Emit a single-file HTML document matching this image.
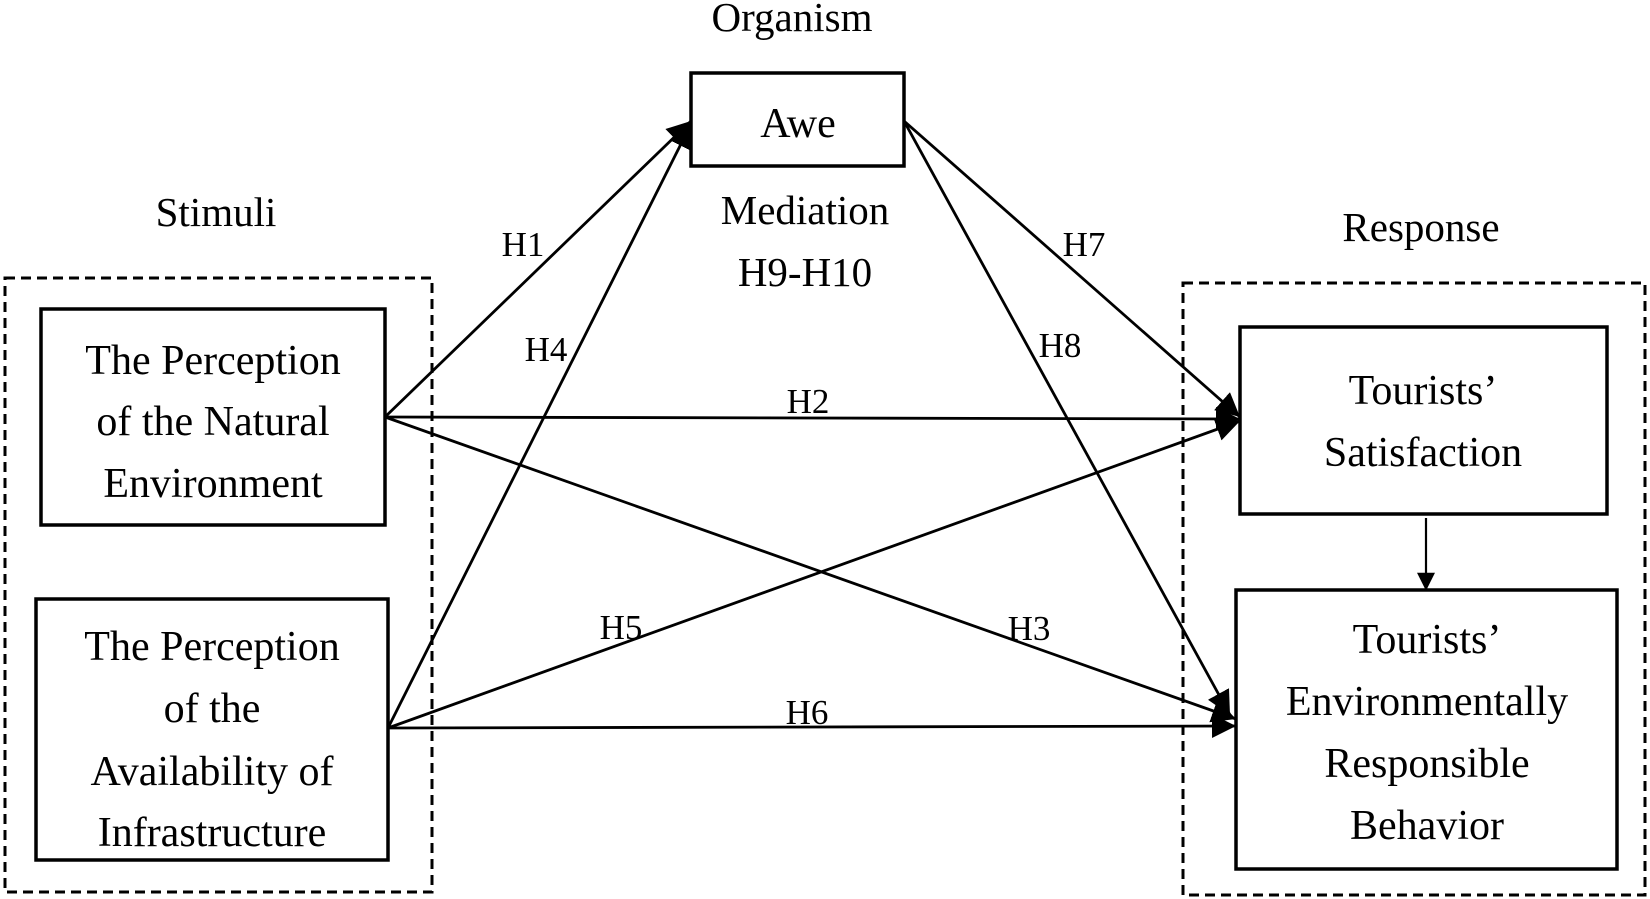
<!DOCTYPE html>
<html><head><meta charset="utf-8"><style>
html,body{margin:0;padding:0;background:#fff}
svg{display:block}
text{font-family:"Liberation Serif",serif;fill:#000}
</style></head><body>
<svg width="1650" height="899" viewBox="0 0 1650 899">
<defs>
<marker id="a" viewBox="0 0 10 10" refX="9" refY="5" markerWidth="22" markerHeight="18" markerUnits="userSpaceOnUse" orient="auto">
<path d="M0,0 L10,5 L0,10 Z" fill="#000"/></marker>
<marker id="b" viewBox="0 0 10 10" refX="10" refY="5" markerWidth="24" markerHeight="26" markerUnits="userSpaceOnUse" orient="auto">
<path d="M0,0 L10,5 L0,10 Z" fill="#000"/></marker>
</defs>
<g fill="none" stroke="#000" stroke-width="3" stroke-dasharray="10,6">
<rect x="5" y="278" width="427" height="614"/>
<rect x="1183" y="283" width="462" height="612"/>
</g>
<g fill="none" stroke="#000" stroke-width="3.5">
<rect x="691" y="73" width="213" height="93"/>
<rect x="41" y="309" width="344" height="216"/>
<rect x="36" y="599" width="352" height="261"/>
<rect x="1240" y="327" width="367" height="187"/>
<rect x="1236" y="590" width="381" height="279"/>
</g>
<g stroke="#000" stroke-width="2.8" fill="none" marker-end="url(#b)">
<line x1="385" y1="417" x2="691" y2="121"/>
<line x1="388" y1="728" x2="691" y2="124"/>
<line x1="385" y1="417" x2="1240" y2="419"/>
<line x1="385" y1="417" x2="1236" y2="719"/>
<line x1="388" y1="728" x2="1240" y2="421"/>
<line x1="388" y1="728" x2="1236" y2="726"/>
<line x1="904" y1="121" x2="1240" y2="417"/>
<line x1="904" y1="121" x2="1230" y2="715"/>
</g>
<line x1="1426" y1="518" x2="1426" y2="589" stroke="#000" stroke-width="2.2" marker-end="url(#a)"/>
<g font-size="41" text-anchor="middle">
<text x="792" y="31">Organism</text>
<text x="216" y="226">Stimuli</text>
<text x="1421" y="241">Response</text>
<text x="805" y="224">Mediation</text>
<text x="805" y="286">H9-H10</text>
</g>
<g font-size="42" text-anchor="middle">
<text x="798" y="137">Awe</text>
<text x="213" y="374">The Perception</text>
<text x="213" y="435">of the Natural</text>
<text x="213" y="497">Environment</text>
<text x="212" y="660">The Perception</text>
<text x="212" y="722">of the</text>
<text x="212" y="785">Availability of</text>
<text x="212" y="846">Infrastructure</text>
<text x="1423" y="404">Tourists’</text>
<text x="1423" y="466">Satisfaction</text>
<text x="1427" y="653">Tourists’</text>
<text x="1427" y="715">Environmentally</text>
<text x="1427" y="777">Responsible</text>
<text x="1427" y="839">Behavior</text>
</g>
<g font-size="35" text-anchor="middle">
<text x="523" y="256">H1</text>
<text x="546" y="361">H4</text>
<text x="808" y="413">H2</text>
<text x="1084" y="256">H7</text>
<text x="1060" y="357">H8</text>
<text x="621" y="639">H5</text>
<text x="1029" y="640">H3</text>
<text x="807" y="724">H6</text>
</g>
</svg>
</body></html>
